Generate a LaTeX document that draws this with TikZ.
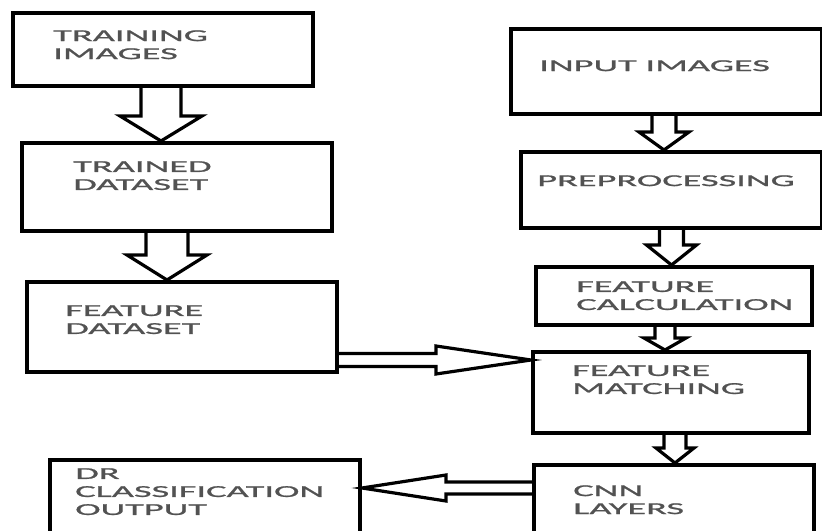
\documentclass[tikz,border=0pt]{standalone}
\usepackage{fontspec}
\newfontfamily\boxfont[FakeStretch=2.3,FakeBold=1.2]{Carlito}
\usetikzlibrary{calc,positioning}
% box from pixel corners: name, x1, y1, x2, y2
\newcommand{\pxbox}[5]{\node[flowbox, minimum width={(#4-#2)*0.75pt}, minimum height={(#5-#3)*0.75pt}] (#1) at ({(#2+#4)/2},{(#3+#5)/2}) {};}
% hollow down arrow: from, to, dx, half shaft, half head, head length
\newcommand{\blockdown}[6]{\draw[blockarrow] let \p1=($(#1.south)+(#3,0)$), \p2=($(#2.north)+(#3,0)$) in
  ({\x1-#4*0.75pt},\y1) -- ({\x1-#4*0.75pt},{\y2+#6*0.75pt}) -- ({\x1-#5*0.75pt},{\y2+#6*0.75pt}) -- (\x1,\y2)
  -- ({\x1+#5*0.75pt},{\y2+#6*0.75pt}) -- ({\x1+#4*0.75pt},{\y2+#6*0.75pt}) -- ({\x1+#4*0.75pt},\y1);}
% hollow side arrow: start, tip, half shaft, half head, head length (signed)
\newcommand{\blockside}[5]{\draw[blockarrow] let \p1=(#1), \p2=(#2) in
  (\x1,{\y1+#3*0.75pt}) -- ({\x2-(#5)*0.75pt},{\y1+#3*0.75pt}) -- ({\x2-(#5)*0.75pt},{\y1+#4*0.75pt}) -- (\x2,\y1)
  -- ({\x2-(#5)*0.75pt},{\y1-#4*0.75pt}) -- ({\x2-(#5)*0.75pt},{\y1-#3*0.75pt}) -- (\x1,{\y1-#3*0.75pt});}

\begin{document}
\begin{tikzpicture}[x=0.75pt, y=-0.75pt,
    flowbox/.style={draw=black, line width=3pt, inner sep=0pt},
    boxtext/.style={anchor=north west, inner sep=0pt, align=left, text=black!68,
      font=\boxfont\fontsize{12.5}{13.5}\selectfont},
    blockarrow/.style={draw=black, line width=2.4pt, line join=miter}]
		%%%%% START %%%%%
		\useasboundingbox (0,0) rectangle (822,531);
		\clip (0,0) rectangle (822,531);
		
		% left column
		\pxbox{train}{13}{13}{313}{86}
		\pxbox{trained}{22}{143}{332}{231}
		\pxbox{featds}{27}{282}{337}{372}
		\pxbox{drout}{50}{460}{360}{570}
		
		% right column
		\pxbox{input}{511}{29}{822}{114}
		\pxbox{prep}{521}{152}{822}{228}
		\pxbox{calc}{536}{267}{812}{325}
		\pxbox{match}{533}{352}{809}{433}
		\pxbox{cnn}{534}{465}{814}{575}
		
		\node[boxtext] (t-train) at ($(train.north west)+(42,19)$) {TRAINING\\IMAGES};
		\node[boxtext] (t-trained) at ($(trained.north west)+(53,20)$) {TRAINED\\DATASET};
		\node[boxtext] (t-featds) at ($(featds.north west)+(40,25)$) {FEATURE\\DATASET};
		\node[boxtext] (t-drout) at ($(drout.north west)+(27,10)$) {DR\\CLASSIFICATION\\OUTPUT};
		\node[boxtext] (t-input) at ($(input.north west)+(30,33)$) {INPUT IMAGES};
		\node[boxtext] (t-prep) at ($(prep.north west)+(18,25)$) {PREPROCESSING};
		\node[boxtext] (t-calc) at ($(calc.north west)+(42,16)$) {FEATURE\\CALCULATION};
		\node[boxtext] (t-match) at ($(match.north west)+(41,15)$) {FEATURE\\MATCHING};
		\node[boxtext] (t-cnn) at ($(cnn.north west)+(41,22)$) {CNN\\LAYERS};
		
		% hollow arrows
		\blockdown{train}{trained}{-2}{20}{41}{25}
		\blockdown{trained}{featds}{-10}{21}{40}{25}
		\blockdown{input}{prep}{-2.5}{12}{25}{18}
		\blockdown{prep}{calc}{0}{12}{25}{20}
		\blockdown{calc}{match}{-9}{10}{21}{12}
		\blockdown{match}{cnn}{4}{11}{19}{15}
		
		\blockside{$(featds.north east)+(0,80)$}{match.west}{6.5}{14}{95}
		\blockside{$(cnn.north west)+(0,25)$}{drout.east}{6}{13}{-84}
		%%%%% END %%%%%
\end{tikzpicture}
\end{document}
